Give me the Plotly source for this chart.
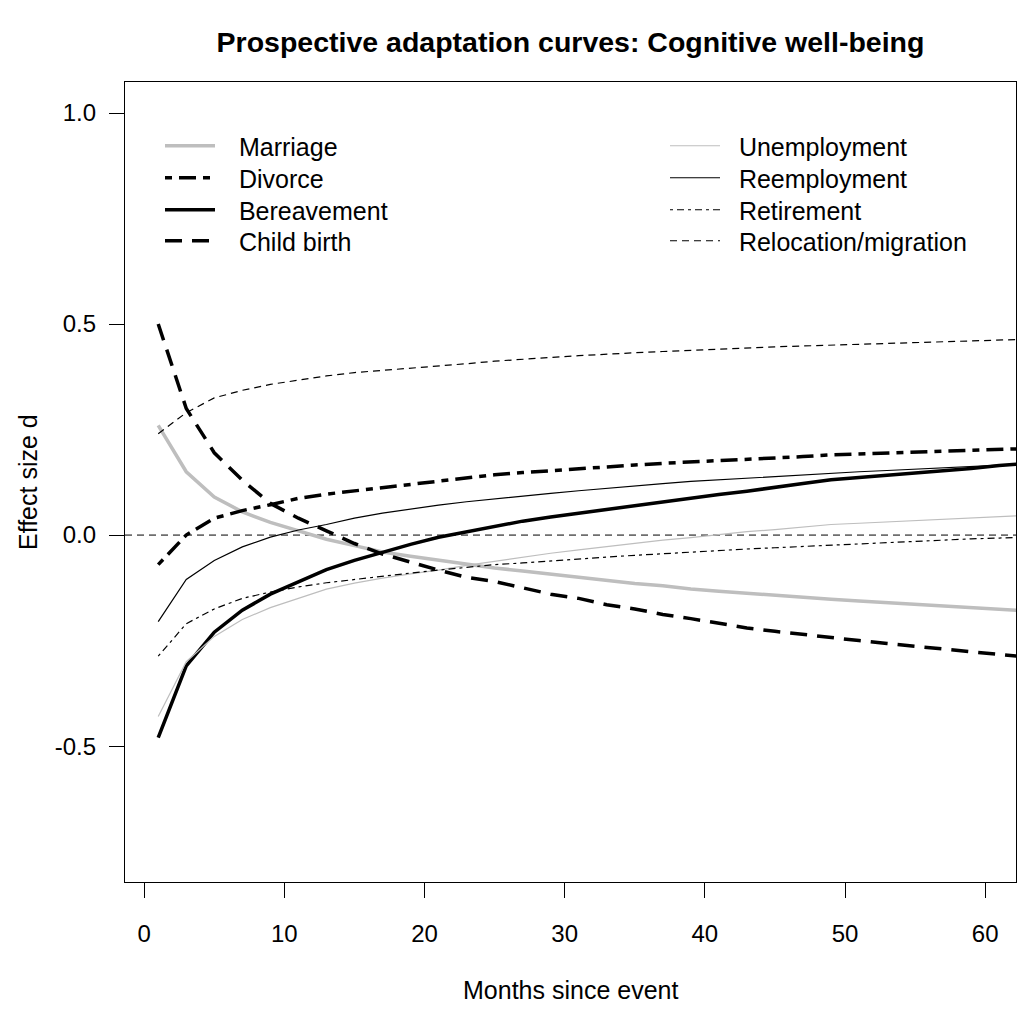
import plotly.graph_objects as go

months = list(range(1, 64, 2))

marriage = [0.26, 0.15, 0.09, 0.055, 0.03, 0.01, -0.01, -0.025, -0.04, -0.05, -0.06, -0.07,
            -0.078, -0.085, -0.093, -0.10, -0.107, -0.115, -0.12, -0.128, -0.133, -0.138,
            -0.144, -0.148, -0.152, -0.156, -0.16, -0.164, -0.168, -0.172, -0.176, -0.18]
divorce = [-0.07, 0.0, 0.04, 0.058, 0.072, 0.087, 0.097, 0.105, 0.112, 0.12, 0.128, 0.137,
           0.143, 0.148, 0.153, 0.157, 0.162, 0.166, 0.17, 0.173, 0.176, 0.179,
           0.182, 0.186, 0.19, 0.192, 0.195, 0.197, 0.199, 0.201, 0.203, 0.205]
bereavement = [-0.48, -0.31, -0.23, -0.178, -0.14, -0.11, -0.082, -0.06, -0.04, -0.022, -0.005, 0.008,
               0.022, 0.033, 0.043, 0.052, 0.062, 0.071, 0.08, 0.088, 0.096, 0.104,
               0.112, 0.122, 0.131, 0.136, 0.141, 0.147, 0.153, 0.158, 0.165, 0.17]
child_birth = [0.50, 0.30, 0.195, 0.13, 0.075, 0.04, 0.01, -0.02, -0.045, -0.065, -0.083, -0.10,
               -0.11, -0.125, -0.14, -0.15, -0.165, -0.175, -0.188, -0.198, -0.21, -0.22,
               -0.228, -0.236, -0.243, -0.25, -0.257, -0.264, -0.271, -0.277, -0.283, -0.289]
unemployment = [-0.43, -0.30, -0.24, -0.20, -0.172, -0.15, -0.128, -0.114, -0.102, -0.092, -0.083, -0.072,
                -0.062, -0.052, -0.043, -0.035, -0.027, -0.019, -0.012, -0.006, 0.001, 0.008,
                0.013, 0.019, 0.025, 0.028, 0.031, 0.034, 0.037, 0.04, 0.044, 0.047]
reemployment = [-0.205, -0.105, -0.06, -0.028, -0.005, 0.012, 0.025, 0.04, 0.052, 0.062, 0.071, 0.079,
                0.086, 0.093, 0.099, 0.105, 0.111, 0.117, 0.122, 0.127, 0.131, 0.135,
                0.139, 0.143, 0.147, 0.15, 0.153, 0.156, 0.159, 0.162, 0.166, 0.169]
retirement = [-0.287, -0.21, -0.175, -0.15, -0.135, -0.123, -0.113, -0.105, -0.097, -0.09, -0.083, -0.077,
              -0.07, -0.066, -0.061, -0.057, -0.052, -0.048, -0.044, -0.04, -0.037, -0.033,
              -0.03, -0.027, -0.023, -0.02, -0.017, -0.014, -0.012, -0.009, -0.007, -0.005]
relocation = [0.24, 0.29, 0.325, 0.343, 0.357, 0.367, 0.377, 0.385, 0.39, 0.395, 0.40, 0.406,
              0.412, 0.417, 0.421, 0.425, 0.429, 0.432, 0.435, 0.438, 0.441, 0.443,
              0.446, 0.448, 0.45, 0.452, 0.454, 0.456, 0.458, 0.46, 0.462, 0.464]

x_ticks = [0, 10, 20, 30, 40, 50, 60]
y_ticks = [-0.5, 0.0, 0.5, 1.0]
y_tick_labels = ["-0.5", "0.0", "0.5", "1.0"]

GRAY = "#BEBEBE"
THICK = 3.5
THIN = 1.2

W, H = 1018, 1010
L, R, T, B = 125, 2, 82, 128
PW, PH = W - L - R, H - T - B

# legend layout: (column left px, row centre px)
LEFT_COL, RIGHT_COL = 160, 665
ROWS = [146, 178, 210, 241]

series = [
    ("Marriage", marriage, GRAY, THICK, "solid", LEFT_COL, ROWS[0], "\u00a0\u00a0\u2009"),
    ("Divorce", divorce, "black", THICK, "7px,7px,17px,7px", LEFT_COL, ROWS[1], "\u00a0\u00a0\u2009"),
    ("Bereavement", bereavement, "black", THICK, "solid", LEFT_COL, ROWS[2], "\u00a0\u00a0\u2009"),
    ("Child birth", child_birth, "black", THICK, "17px,10px", LEFT_COL, ROWS[3], "\u00a0\u00a0\u2009"),
    ("Unemployment", unemployment, GRAY, THIN, "solid", RIGHT_COL, ROWS[0], "\u00a0\u00a0"),
    ("Reemployment", reemployment, "black", THIN, "solid", RIGHT_COL, ROWS[1], "\u00a0\u00a0"),
    ("Retirement", retirement, "black", THIN, "3px,4px,7px,4px", RIGHT_COL, ROWS[2], "\u00a0\u00a0"),
    ("Relocation/migration", relocation, "black", THIN, "7px,5px", RIGHT_COL, ROWS[3], "\u00a0\u00a0"),
]

fig = go.Figure()

# zero reference line
fig.add_hline(y=0, line=dict(color="black", width=1, dash="7px,5px"), layer="below")

FONT = "Liberation Sans, Arial, sans-serif"
legends = {}
for i, (name, vals, col, w, dash, lx, ly, pad) in enumerate(series):
    key = "legend" if i == 0 else f"legend{i + 1}"
    fig.add_trace(go.Scatter(
        x=months, y=vals, mode="lines", name=pad + name,
        line=dict(color=col, width=w, dash=dash),
        legend=key,
    ))
    legends[key] = dict(x=(lx - L) / PW, y=1 - (ly - T) / PH,
                        xanchor="left", yanchor="middle", bgcolor="rgba(0,0,0,0)",
                        font=dict(size=25, family=FONT), itemwidth=50)

fig.update_layout(
    width=W, height=H,
    margin=dict(l=L, r=R, t=T, b=B),
    paper_bgcolor="white", plot_bgcolor="white",
    font=dict(family=FONT, size=24, color="black"),
    title=dict(text="<b>Prospective adaptation curves: Cognitive well-being</b>",
               x=(L + PW / 2) / W, xanchor="center",
               y=1 - 42 / H, yanchor="middle", yref="container",
               font=dict(size=28.5, family=FONT)),
    showlegend=True,
    **legends,
)

fig.update_xaxes(
    range=[-1.37, 62.2], tickvals=x_ticks, ticks="outside", ticklen=15, tickwidth=1,
    tickcolor="black", showline=True, linecolor="black", linewidth=1.3, mirror=True,
    showgrid=False, zeroline=False, tickfont=dict(size=24), ticklabelstandoff=15,
)
fig.update_yaxes(
    range=[-0.822, 1.0735], tickvals=y_ticks, ticktext=y_tick_labels, ticks="outside",
    ticklen=15, tickwidth=1, tickcolor="black", showline=True, linecolor="black",
    linewidth=1.3, mirror=True, showgrid=False, zeroline=False, tickfont=dict(size=24),
    ticklabelstandoff=8,
)

fig.add_annotation(text="Months since event", xref="paper", yref="paper",
                   x=0.5, y=-(990 - (H - B)) / PH, xanchor="center", yanchor="middle",
                   showarrow=False, font=dict(size=25))
fig.add_annotation(text="Effect size d", xref="paper", yref="paper", textangle=-90,
                   x=-(L - 28) / PW, y=0.5, xanchor="center", yanchor="middle",
                   showarrow=False, font=dict(size=25))

fig.write_html(
    "out.html",
    config={"displayModeBar": False},
    post_script="document.body.style.margin='0';document.body.style.overflow='hidden';",
)
